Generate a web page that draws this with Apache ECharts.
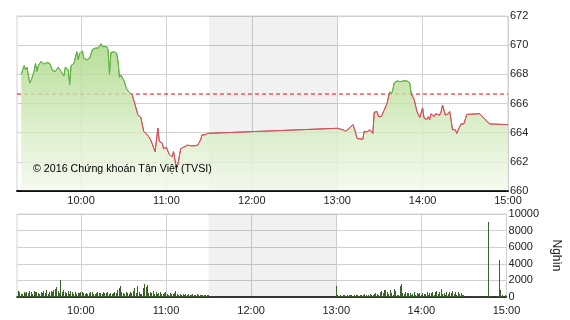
<!DOCTYPE html>
<html><head><meta charset="utf-8">
<script src="https://cdn.jsdelivr.net/npm/echarts@6/dist/echarts.min.js"></script>
<style>html,body{margin:0;padding:0;background:#fff}#c{width:570px;height:320px}</style>
</head><body><div id="c"></div>
<script>
// ---- data ----
const priceTimes = ["09:18","09:20","09:21","09:22","09:24","09:25","09:27","09:28","09:29","09:30","09:32","09:34","09:36","09:38","09:40","09:42","09:44","09:46","09:48","09:49","09:51","09:52","09:53","09:55","09:57","09:58","09:59","10:01","10:02","10:04","10:06","10:07","10:08","10:10","10:12","10:14","10:15","10:16","10:18","10:19","10:20","10:21","10:23","10:25","10:26","10:27","10:28","10:30","10:32","10:34","10:36","10:37","10:38","10:40","10:42","10:44","10:47","10:49","10:52","10:54","10:55","10:57","10:58","11:00","11:02","11:04","11:05","11:07","11:08","11:09","11:10","11:12","11:15","11:17","11:20","11:22","11:24","11:25","11:27","11:29","11:30","13:00","13:04","13:06","13:09","13:11","13:12","13:14","13:18","13:19","13:21","13:22","13:23","13:25","13:26","13:28","13:29","13:31","13:32","13:33","13:35","13:36","13:37","13:38","13:39","13:40","13:42","13:43","13:44","13:47","13:49","13:51","13:52","13:54","13:56","13:58","14:00","14:01","14:03","14:04","14:05","14:06","14:08","14:09","14:10","14:12","14:13","14:14","14:15","14:16","14:18","14:19","14:20","14:21","14:23","14:24","14:25","14:26","14:27","14:28","14:29","14:31","14:32","14:40","14:41","14:47","15:00"];
const priceValues = [668.0,668.6,668.3,668.5,667.4,667.6,668.2,668.75,668.2,668.6,668.9,668.7,668.8,668.75,668.25,668.2,668.5,668.2,667.9,668.5,668.3,667.3,668.6,668.75,669.55,669.0,669.45,669.6,669.1,669.0,669.1,669.0,669.7,669.8,669.8,670.1,669.9,670.0,669.9,669.7,668.0,669.5,669.55,669.45,668.9,667.8,667.95,667.6,667.0,666.75,666.6,666.25,665.9,665.2,665.05,664.1,663.8,663.5,662.7,664.3,663.4,663.3,662.9,663.0,662.5,662.35,662.7,661.55,661.8,662.35,662.9,663.0,663.15,663.1,663.1,663.15,663.5,663.85,663.85,663.95,664.0,664.3,664.2,664.1,664.35,664.55,664.3,663.6,663.55,664.1,664.05,663.95,664.2,663.95,665.4,665.45,665.1,665.1,665.2,665.55,666.0,666.45,666.8,666.65,666.9,667.4,667.55,667.65,667.5,667.55,667.55,667.4,666.65,666.3,665.45,665.05,665.7,665.0,664.9,665.1,664.9,665.3,665.1,665.3,665.3,665.2,665.45,665.9,665.8,665.2,665.3,665.45,664.9,664.2,664.2,663.95,664.05,664.4,664.6,664.55,664.6,665.25,665.3,665.3,665.25,664.6,664.55];
const referenceValue = 666.65;
const volumeMorningStart = "09:16";
const volumeMorning = [700,650,400,350,600,450,650,500,700,550,400,700,600,650,450,350,550,500,700,450,800,400,550,750,650,900,1000,1250,700,500,2100,550,800,650,500,700,400,750,550,400,650,350,500,450,600,550,450,400,500,350,450,550,600,400,350,500,650,500,450,350,600,500,450,650,350,500,400,450,600,500,900,1100,1350,600,450,400,550,450,350,550,450,700,1050,500,1350,650,400,350,1050,1600,1200,1500,500,600,450,700,400,550,350,500,600,400,350,450,550,400,300,450,350,400,500,750,350,300,400,250,350,300,400,250,350,300,250,350,300,250,350,300,250,300,250,200,300,250,300];
const volumeAfternoonStart = "13:00";
const volumeAfternoon = [1300,200,150,250,100,200,300,150,250,200,300,250,150,200,300,250,150,300,200,250,350,300,150,250,400,300,200,350,500,400,300,600,700,500,800,900,600,400,900,500,300,1000,700,300,200,1300,1600,500,400,600,500,450,500,200,400,550,300,500,400,450,300,500,400,350,600,300,500,450,600,300,550,700,400,600,1000,400,500,300,650,400,600,500,700,400,550,300,600,400,500,300,200,0,0,0,0,0,0,0,0,150,0,0,0,0,0,0,0,9000,0,150,0,0,0,0,100,4500,900,200,0,200,150];
const hourLabels = ["10:00","11:00","12:00","13:00","14:00","15:00"];
const lunchBreak = ["11:30","13:00"];
const priceAxis = {min:660, max:672, step:2};
const volumeAxis = {min:0, max:10000, step:2000};
const sessionRange = ["09:15","15:00"];
const copyrightText = "© 2016 Chứng khoán Tân Việt (TVSI)";

// ---- build ----
const toMin = s => { const p = s.split(':'); return (+p[0])*60 + (+p[1]); };
const priceData = priceTimes.map((t,i)=>[toMin(t), priceValues[i]]);
const volData = [];
volumeMorning.forEach((v,i)=>volData.push([toMin(volumeMorningStart)+i, v]));
volumeAfternoon.forEach((v,i)=>volData.push([toMin(volumeAfternoonStart)+i, v]));
const xMin = toMin(sessionRange[0]), xMax = toMin(sessionRange[1]);
const hourVals = hourLabels.map(toMin);
const fmt = v => { const h = Math.floor(v/60), m = Math.round(v%60); return String(h).padStart(2,'0')+':'+String(m).padStart(2,'0'); };
const font = '"Liberation Sans", Arial, sans-serif';
const gridLine = {show:true, lineStyle:{color:'#d0d0d0', width:1}};
const GREEN = '#62b046', RED = '#d4505c', BAR = '#3a6329';

function xAx(gi, margin){
  return {type:'value', gridIndex:gi, position:'bottom', min:xMin, max:xMax,
    axisLine:{show:true, onZero:false, lineStyle:{color:'#000', width:1.5}},
    axisTick:{show:false, customValues:hourVals},
    axisLabel:{customValues:hourVals, formatter:fmt, color:'#222', fontSize:11, fontFamily:font, margin:margin},
    splitLine:gridLine};
}
function yAx(gi, r, extra){
  return Object.assign({type:'value', gridIndex:gi, position:'right', min:r.min, max:r.max, interval:r.step,
    axisLine:{show:false}, axisTick:{show:false},
    axisLabel:{color:'#222', fontSize:11, fontFamily:font, margin:2, formatter:v=>String(v)},
    splitLine:gridLine}, extra||{});
}
const lunchArea = {silent:true, itemStyle:{color:'rgba(0,0,0,0.055)'}, data:[[{xAxis:toMin(lunchBreak[0])},{xAxis:toMin(lunchBreak[1])}]]};

const chart = echarts.init(document.getElementById('c'), null, {renderer:'canvas'});
const option = {
  animation:false,
  grid:[
    {left:17, right:62, top:16, height:175, show:true, borderColor:'#d0d0d0', borderWidth:1, backgroundColor:'transparent'},
    {left:17, right:62, top:214, height:83, show:true, borderColor:'#d0d0d0', borderWidth:1, backgroundColor:'transparent'}
  ],
  xAxis:[xAx(0,4), xAx(1,8),
    // baseline only, drawn above the price area fill
    {type:'value', gridIndex:0, position:'bottom', min:xMin, max:xMax, z:5,
      axisLine:{show:true, onZero:false, lineStyle:{color:'#000', width:1.5}},
      axisTick:{show:false}, axisLabel:{show:false}, splitLine:{show:false}}],
  yAxis:[yAx(0, priceAxis), yAx(1, volumeAxis, {name:'Nghìn', nameLocation:'middle', nameRotate:-90, nameGap:42, nameTextStyle:{color:'#222', fontSize:12, fontFamily:font}})],
  graphic:[{type:'text', left:33, top:164, z:100, style:{text:copyrightText, fill:'#000', font:'10.7px '+font}}],
  series:[
    {type:'line', xAxisIndex:0, yAxisIndex:0, z:1, symbol:'none', silent:true,
      data:[[xMin, referenceValue],[xMax, referenceValue]],
      lineStyle:{color:'#ff0000', width:1, type:[4,3]}, markArea:lunchArea},
    {type:'line', xAxisIndex:0, yAxisIndex:0, z:2, symbol:'none', data:priceData,
      lineStyle:{width:1, color:RED},
      areaStyle:{origin:'start', opacity:0.8, color:{type:'linear', x:0, y:0, x2:0, y2:1, colorStops:[
        {offset:0, color:'#a6d57e'},{offset:0.6, color:'#d7ecc4'},{offset:1, color:'#f3f9ec'}]}}},
    {type:'custom', xAxisIndex:1, yAxisIndex:1, data:volData, markArea:lunchArea,
      renderItem:(params, api)=>{
        const top = api.coord([api.value(0), api.value(1)]);
        const base = api.coord([api.value(0), 0]);
        const x = Math.round(top[0] - 0.5);
        const y = Math.round(top[1]);
        return {type:'rect', shape:{x:x, y:y, width:1, height:Math.round(base[1]) - y}, style:{fill:BAR}};
      }}
  ]
};
chart.setOption(option);
// split line colour at the reference level, using the axis scale
const yTop = chart.convertToPixel({yAxisIndex:0}, priceAxis.max);
const yBot = chart.convertToPixel({yAxisIndex:0}, priceAxis.min);
const yRef = chart.convertToPixel({yAxisIndex:0}, referenceValue);
const f = (yRef - yTop) / (yBot - yTop);
chart.setOption({series:[{}, {lineStyle:{color:new echarts.graphic.LinearGradient(0, yTop, 0, yBot, [
  {offset:0, color:GREEN},{offset:f, color:GREEN},{offset:f, color:RED},{offset:1, color:RED}], true)}}, {}]});
</script></body></html>
